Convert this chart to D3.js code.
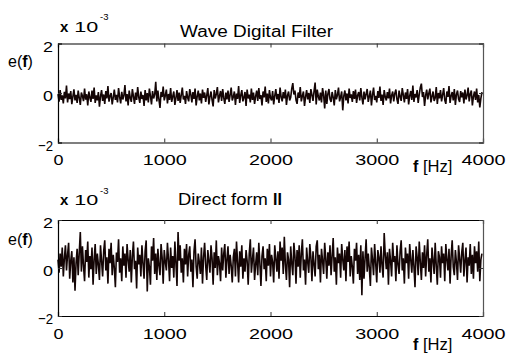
<!DOCTYPE html>
<html><head><meta charset="utf-8">
<script src="https://cdn.jsdelivr.net/npm/d3@7"></script>
<style>
html,body{margin:0;padding:0;background:#fff;}
svg{display:block;}
text{font-family:"Liberation Sans",Arial,Helvetica,sans-serif;fill:#000;}
</style></head>
<body>
<script>
// ---- data (values in units of 1e-3) ----
const freqStep = 10; // Hz between samples
const xTicks = [0, 1000, 2000, 3000, 4000];
const yTicks = [-2, 0, 2];
const titles = ["Wave Digital Filter", "Direct form "];
const yLabel = "e(f)";
const xLabel = "f [Hz]";

const wdfError = [
-0.05,-0.35,0.12,-0.28,-0.10,-0.42,0.05,-0.22,0.30,-0.38,-0.02,-0.25,0.08,-0.45,-0.15,0.15,-0.30,-0.08,-0.40,0.10,
-0.20,-0.48,0.02,-0.12,-0.33,0.18,-0.27,-0.05,-0.50,0.06,-0.18,-0.36,0.10,-0.24,0.22,-0.40,-0.10,-0.30,0.04,-0.55,
-0.14,0.12,-0.32,-0.06,-0.44,0.08,-0.22,0.28,-0.35,-0.12,0.00,-0.46,-0.18,0.14,-0.28,-0.08,-0.38,0.20,-0.16,-0.42,
0.05,-0.26,-0.10,0.32,-0.34,-0.04,-0.50,0.10,-0.20,-0.36,0.16,-0.14,-0.44,0.02,-0.28,0.24,-0.18,-0.40,0.06,-0.24,
-0.08,-0.52,0.12,-0.30,0.00,-0.38,0.18,-0.12,-0.46,0.08,-0.22,-0.06,0.45,-0.34,0.10,-0.26,-0.60,0.04,-0.16,0.26,
-0.30,-0.10,0.14,-0.42,-0.04,-0.28,0.20,-0.36,-0.14,0.06,-0.48,-0.20,0.12,-0.32,0.02,-0.40,-0.08,0.22,-0.26,-0.12,
-0.44,0.08,-0.18,-0.34,0.16,-0.06,-0.38,0.04,-0.24,0.18,-0.50,-0.14,0.10,-0.30,-0.02,-0.42,0.14,-0.20,0.02,-0.36,
-0.10,0.20,-0.46,-0.16,0.06,-0.28,-0.54,0.12,-0.22,-0.04,0.24,-0.38,-0.12,0.08,-0.32,0.16,-0.20,-0.44,0.02,-0.26,
0.10,-0.36,-0.08,0.22,-0.30,-0.16,0.06,-0.48,-0.02,-0.24,0.28,-0.40,-0.10,0.12,-0.34,-0.18,0.04,-0.52,0.14,-0.22,
-0.06,-0.38,0.18,-0.28,0.02,-0.44,-0.14,0.10,-0.32,0.20,-0.24,-0.08,-0.50,0.06,-0.18,0.26,-0.36,-0.02,-0.42,0.12,
-0.20,-0.30,0.08,-0.46,-0.12,0.16,-0.26,-0.04,-0.40,0.22,-0.16,-0.34,0.04,-0.22,0.14,-0.48,-0.10,0.06,-0.30,-0.18,
0.18,0.40,-0.06,0.10,-0.28,-0.44,0.02,-0.20,0.24,-0.34,-0.12,0.06,-0.52,-0.16,0.12,-0.26,0.00,-0.40,0.16,-0.08,
-0.32,0.08,0.42,-0.46,0.14,-0.14,-0.30,0.02,-0.38,0.20,-0.10,-0.62,0.10,-0.44,-0.04,0.16,-0.24,-0.36,0.04,-0.18,
-0.50,0.12,-0.26,-0.08,0.22,-0.34,-0.16,0.06,-0.70,-0.12,0.10,-0.30,-0.02,-0.42,0.18,-0.20,-0.06,-0.36,0.08,-0.24,
0.14,-0.40,-0.10,0.04,-0.30,0.20,-0.18,-0.46,0.06,-0.26,-0.04,0.16,-0.36,-0.14,0.10,-0.50,-0.08,0.22,-0.28,-0.12,
-0.38,0.08,-0.20,0.26,-0.32,-0.06,-0.48,0.12,-0.16,-0.30,0.04,-0.22,0.18,-0.42,-0.10,0.06,-0.34,-0.02,0.14,-0.26,
-0.44,0.10,-0.14,-0.32,0.20,-0.08,-0.38,0.02,-0.24,0.16,-0.46,-0.12,0.08,-0.28,0.30,-0.36,-0.04,-0.18,0.12,-0.40,
-0.06,0.22,0.38,-0.16,0.04,-0.52,-0.10,0.14,-0.26,-0.02,0.18,-0.38,-0.14,0.06,-0.32,-0.20,0.24,-0.44,0.00,-0.22,
0.12,-0.34,-0.08,0.20,-0.28,-0.44,0.06,-0.16,0.28,-0.40,-0.12,0.04,-0.30,0.16,-0.48,-0.06,0.10,-0.24,-0.36,0.08,
-0.18,0.02,-0.42,0.14,-0.26,-0.10,0.22,-0.34,-0.04,0.10,-0.50,-0.14,0.06,-0.28,0.18,-0.38,-0.08,-0.58,-0.22,0.04
];

const df2Error = [
0.35,-0.20,0.60,0.05,0.85,-0.35,0.40,0.95,-0.10,0.55,1.05,-0.45,0.30,0.70,-0.60,0.45,-0.95,0.20,0.80,-0.30,
0.65,1.50,-0.15,0.90,0.10,-0.55,0.75,0.25,1.10,-0.40,0.50,-0.05,0.85,-0.70,0.35,1.00,-0.25,0.60,0.15,-0.50,
0.95,0.30,-0.35,0.70,1.15,-0.10,0.45,-0.65,0.80,0.20,1.05,-0.30,0.55,0.00,-0.80,0.65,0.25,1.20,-0.20,0.40,
-0.55,0.90,0.10,0.60,-0.40,1.00,0.35,-0.15,0.75,-0.60,0.50,1.10,-0.05,0.30,-0.85,0.85,0.15,0.55,-0.35,0.95,
0.20,-0.45,0.70,1.15,-0.98,0.40,0.05,-0.70,0.90,0.30,1.25,-0.25,0.60,-0.50,0.80,0.10,-0.30,1.00,0.45,-0.65,
0.75,0.25,-0.10,1.05,0.35,-0.55,0.85,0.00,0.50,-0.40,1.10,0.20,-0.75,1.50,0.30,0.95,-0.20,0.40,-0.60,0.80,
0.15,1.00,-0.35,0.55,0.90,-0.15,0.35,-0.80,0.70,1.20,0.05,-0.45,0.60,0.25,-0.25,0.85,-0.65,0.45,1.05,0.10,
-0.50,0.75,0.30,-0.20,0.95,0.40,-0.70,0.65,0.00,1.15,-0.30,0.50,0.20,-0.55,0.85,-0.10,0.60,1.00,-0.40,0.35,
0.90,-0.25,0.55,0.10,-0.60,0.45,0.80,-0.35,1.10,0.25,-0.60,0.70,0.05,0.95,-0.45,0.40,-0.15,0.75,0.30,-0.70,
0.60,1.20,-0.20,0.35,0.85,-0.50,0.15,0.65,-0.30,1.05,0.20,-0.75,0.50,0.90,-0.05,0.40,-0.55,0.80,0.10,1.00,
-0.35,0.55,0.25,-0.60,0.95,0.40,-0.15,0.70,-0.45,1.10,0.30,0.85,-0.25,1.30,0.15,-0.50,0.65,0.35,-0.80,0.90,
0.20,-0.30,1.05,0.50,-0.65,0.75,0.05,0.95,-0.40,0.60,1.20,-0.10,0.35,-0.70,0.85,0.25,-0.20,1.00,0.45,-0.55,
0.70,0.15,-0.35,0.90,1.15,-0.05,0.55,-0.60,0.80,0.30,-0.25,1.05,0.40,-0.45,0.65,0.10,0.95,-0.30,0.50,1.25,
-0.15,0.45,-0.70,0.85,0.20,0.60,-0.40,1.00,0.35,-0.10,0.75,-0.55,0.90,0.25,1.10,-0.35,0.50,0.05,-0.65,0.80,
0.30,1.05,-0.25,0.55,-0.50,0.95,-1.13,0.70,-0.45,0.40,1.20,-0.15,0.60,0.00,-0.75,0.85,0.35,-0.30,1.00,0.20,
-0.60,0.75,0.45,-0.20,0.90,0.10,-0.40,1.46,0.55,-0.05,0.65,-0.70,0.80,0.30,-0.35,1.05,0.25,0.50,-0.55,0.95,
0.15,-0.25,0.70,1.15,-0.10,0.40,-0.65,0.85,0.20,0.60,-0.45,1.00,0.35,-0.20,0.75,0.05,-0.80,0.90,0.45,-0.30,
1.10,0.25,-0.50,0.65,0.00,0.95,-0.35,0.55,1.20,-0.15,0.40,-0.60,0.85,0.30,-0.25,1.05,0.10,-0.70,0.70,0.45,
-0.40,0.90,0.20,0.60,-0.55,1.00,0.35,-0.10,0.80,-0.65,0.50,1.15,0.05,-0.30,0.75,0.25,-0.50,0.95,0.40,-0.20,
0.65,1.05,-0.35,0.30,0.85,-0.60,0.45,0.10,1.00,-0.25,0.55,-0.45,0.90,0.20,0.70,-0.15,1.10,-0.55,0.35,0.60
];

// ---- layout ----
const W = 507, H = 353;
const svg = d3.select("body").append("svg").attr("width", W).attr("height", H);

const panels = [
  {series: wdfError, top: 43.5, bottom: 142.5, title: titles[0], roman: false,
   titleX: 180, titleY: 36.7, titleLen: 153, expY: 31.7, eY: 66.7, xlabY: 171.5, tickLabY: 164.5},
  {series: df2Error, top: 220, bottom: 316, title: titles[1], roman: true,
   titleX: 178, titleY: 205, titleLen: 107, expY: 205, eY: 245, xlabY: 350, tickLabY: 339}
];
const left = 58, right = 483;
const lineColor = "#140505";

panels.forEach(p => {
  const x = d3.scaleLinear().domain([0, 4000]).range([left, right]);
  const y = d3.scaleLinear().domain([-2, 2]).range([p.bottom, p.top]);
  const g = svg.append("g");

  // signal
  const line = d3.line().x((d, i) => x(i * freqStep)).y(d => y(d));
  g.append("path").datum(p.series)
    .attr("d", line).attr("fill", "none")
    .attr("stroke", lineColor).attr("stroke-width", 1.6)
    .attr("stroke-linejoin", "bevel");

  // axes (inward ticks)
  const xb = g.append("g").attr("transform", `translate(0,${p.bottom})`)
    .call(d3.axisBottom(x).tickValues(xTicks).tickSize(-4).tickFormat(d3.format("d")));
  const xt = g.append("g").attr("transform", `translate(0,${p.top})`)
    .call(d3.axisTop(x).tickValues(xTicks).tickSize(-4).tickFormat(""));
  const yl = g.append("g").attr("transform", `translate(${left},0)`)
    .call(d3.axisLeft(y).tickValues(yTicks).tickSize(-4).tickFormat(d3.format("d")));
  const yr = g.append("g").attr("transform", `translate(${right},0)`)
    .call(d3.axisRight(y).tickValues(yTicks).tickSize(-4).tickFormat(""));

  [xb, xt, yl, yr].forEach(a => {
    a.select(".domain").attr("stroke", "#000").attr("stroke-width", 1.2);
    a.selectAll(".tick line").attr("stroke", "#333");
  });
  yr.select(".domain").attr("stroke", "#555");

  // x tick labels
  xb.selectAll(".tick text")
    .attr("y", p.tickLabY - p.bottom).attr("dy", 0)
    .style("font-size", "15.5px")
    .attr("textLength", d => d === 0 ? 10 : 44)
    .attr("lengthAdjust", "spacingAndGlyphs");

  // y tick labels
  yl.selectAll(".tick text")
    .attr("x", -5).attr("dy", 0).attr("y", 7.6)
    .attr("text-anchor", "end")
    .style("font-size", "15.5px")
    .attr("textLength", d => d < 0 ? 15 : 10)
    .attr("lengthAdjust", "spacingAndGlyphs");

  // exponent label x 10^-3
  const ex = svg.append("text").attr("x", 60).attr("y", p.expY).style("font-size", "15px");
  ex.append("tspan").text("x").style("font-weight", "bold");
  ex.append("tspan").text(" 10").attr("textLength", 30).attr("lengthAdjust", "spacingAndGlyphs");
  svg.append("text").attr("x", 100).attr("y", p.expY - 11.5).style("font-size", "9.5px").text("-3");

  // title
  const t = svg.append("text").attr("x", p.titleX).attr("y", p.titleY).style("font-size", "16px");
  if (p.roman) {
    t.append("tspan").text(p.title).attr("textLength", p.titleLen - 12).attr("lengthAdjust", "spacingAndGlyphs");
    t.append("tspan").text("II").style("font-weight", "bold");
  } else {
    t.text(p.title).attr("textLength", p.titleLen).attr("lengthAdjust", "spacingAndGlyphs");
  }

  // y label e(f)
  const e = svg.append("text").attr("x", 8).attr("y", p.eY).style("font-size", "16px");
  e.append("tspan").text("e(");
  e.append("tspan").text("f").style("font-weight", "bold");
  e.append("tspan").text(")");

  // x label f [Hz]
  const fx = svg.append("text").attr("x", 413).attr("y", p.xlabY).style("font-size", "16px");
  fx.append("tspan").text("f").style("font-weight", "bold");
  fx.append("tspan").text(" [Hz]").attr("textLength", 34).attr("lengthAdjust", "spacingAndGlyphs");
});
</script>
</body></html>
